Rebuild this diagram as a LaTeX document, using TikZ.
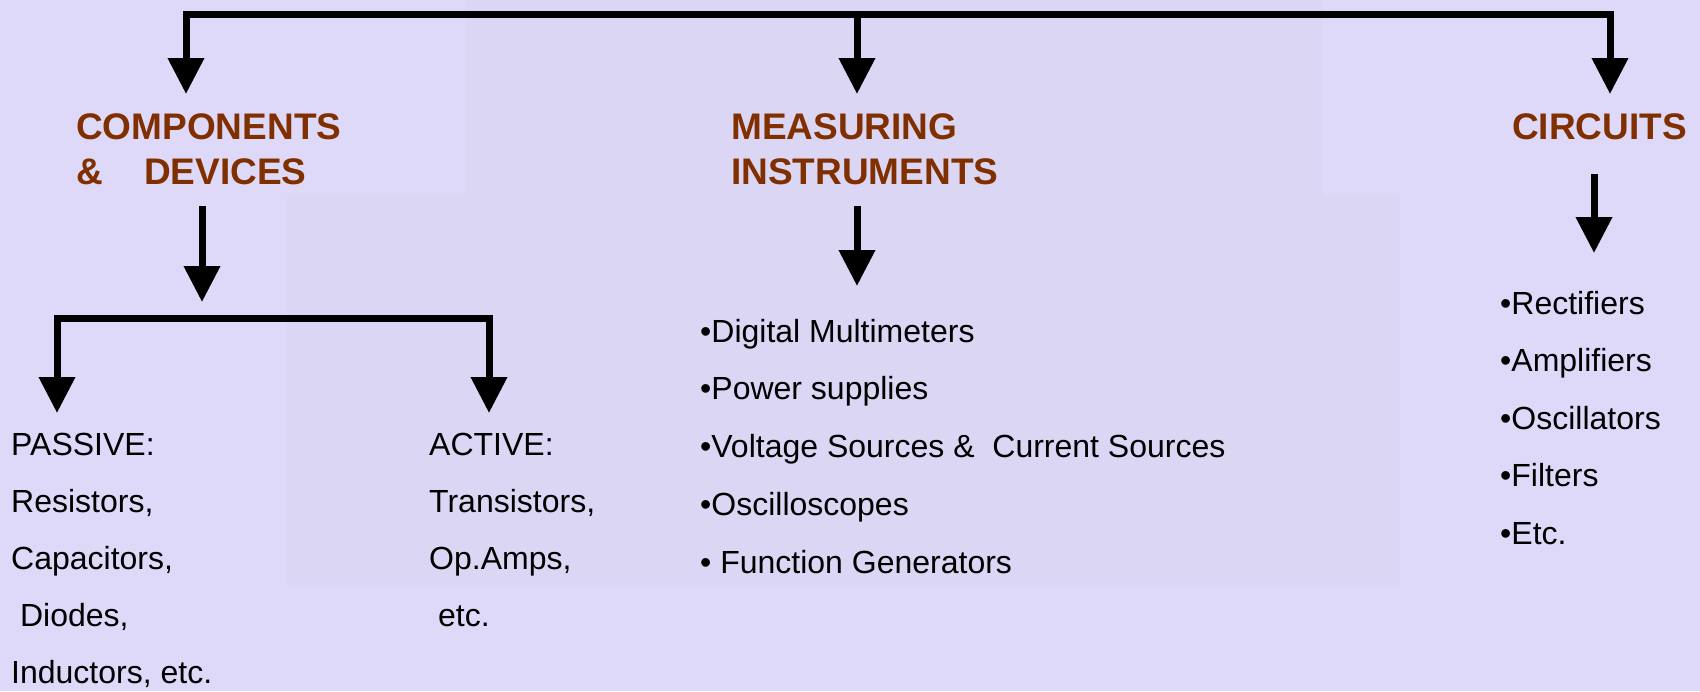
\documentclass[tikz,border=0pt]{standalone}
\usepackage{fontspec}
\setmainfont{Liberation Sans}
\usetikzlibrary{arrows.meta,positioning}

\definecolor{slide}{RGB}{222,217,248}
\definecolor{photo}{RGB}{218,214,243}
\definecolor{heading}{RGB}{128,48,0}

\begin{document}
\begin{tikzpicture}[x=1pt,y=-1pt,
            head/.style={anchor=north west,inner sep=0pt,align=left,text=heading,font=\fontsize{37}{45}\selectfont\bfseries},
            item/.style={anchor=base west,inner sep=0pt,font=\fontsize{32}{38}\selectfont},
            link/.style={draw,line width=7pt,-{Triangle[width=35pt,length=36pt]}},
            fork/.style={link,{Triangle[width=35pt,length=36pt]}-{Triangle[width=35pt,length=36pt]}}
          ]
          % slide background
          \fill[slide] (0,0) rectangle (1700,691);
          \fill[photo] (466,0) rectangle (1323,200);
          \fill[photo] (287,195) rectangle (1400,585);
          \useasboundingbox (0,0) rectangle (1700,691);

          %headings
          \node[head] (comp) at (76,113) {COMPONENTS\\\&\ \ \ \ DEVICES};
          \node[head] (meas) at (731,113) {MEASURING\\INSTRUMENTS};
          \node[head] (circ) at (1512,113) {CIRCUITS};

          %top bar
          \coordinate (t1) at (186,94);
          \coordinate (t2) at (857,94);
          \coordinate (t3) at (1610,94);
          \coordinate (top) at (857,14);
          \draw[fork] (t1) |- (top) -| (t3);
          \draw[link] (top) -- (t2);

          %second level
          \coordinate (d0) at (202,206);
          \coordinate (d1) at (202,302);
          \coordinate (m0) at (857,206);
          \coordinate (m1) at (857,286);
          \coordinate (c0) at (1594,174);
          \coordinate (c1) at (1594,253);
          \draw[link] (d0) -- (d1);
          \draw[link] (m0) -- (m1);
          \draw[link] (c0) -- (c1);

          %passive / active fork
          \coordinate (fk) at (202,318);
          \coordinate (p0) at (57,413);
          \coordinate (a0) at (489,413);
          \draw[fork] (p0) |- (fk) -| (a0);

          %lists
          \foreach \txt [count=\i] in {PASSIVE:,{Resistors,},{Capacitors,},{\ Diodes,},{Inductors, etc.}}
            \node[item] (pas\i) at (11,398+57*\i) {\txt};
          \foreach \txt [count=\i] in {ACTIVE:,{Transistors,},{Op.Amps,},{\ etc.}}
            \node[item] (act\i) at (429,398+57*\i) {\txt};
          \foreach \txt [count=\i] in {•Digital Multimeters,•Power supplies,{•Voltage Sources \&\ \ Current Sources},•Oscilloscopes,{•\ Function Generators}}
            \node[item] (ins\i) at (700,284.25+57.75*\i) {\txt};
          \foreach \txt [count=\i] in {•Rectifiers,•Amplifiers,•Oscillators,•Filters,•Etc.}
            \node[item] (cir\i) at (1500,256.5+57.5*\i) {\txt};

      \end{tikzpicture}
\end{document}
